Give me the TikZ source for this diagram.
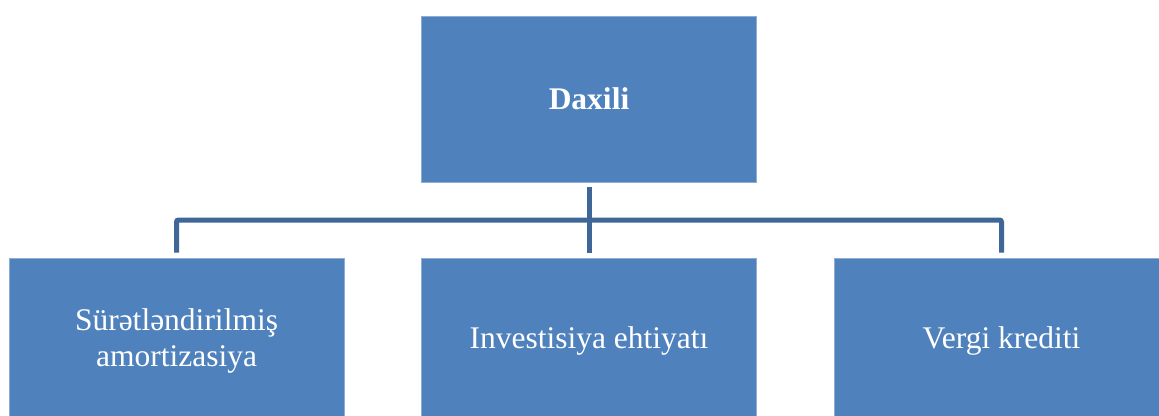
\documentclass[tikz,border=0pt]{standalone}
\usepackage{fontspec}
\setmainfont{Liberation Serif}
\definecolor{boxfill}{HTML}{4F81BD}
\definecolor{boxline}{HTML}{8EADD6}
\definecolor{linkcol}{HTML}{3E6797}
\begin{document}
\begin{tikzpicture}[x=1pt,y=-1pt,
  box/.style={draw=boxline,line width=.8pt,fill=boxfill,text=white,inner sep=0pt,
    minimum width=335pt,minimum height=166pt,align=center,
    font=\fontsize{31.5}{36}\selectfont},
  link/.style={draw=linkcol,line width=5pt,rounded corners=2pt}]
\useasboundingbox (0,0) rectangle (1159,415);
\clip (0,0) rectangle (1159,415);
\node[box,font=\fontsize{31.5}{36}\selectfont\bfseries] (daxili) at (589,99) {Daxili};
\node[box] (amort) at (176.5,341) {Sürətləndirilmiş\\amortizasiya};
\node[box] (invest) at (589,341) {Investisiya ehtiyatı};
\node[box] (vergi) at (1001.5,341) {Vergi krediti};
\coordinate (bar) at (589,220);
\draw[link,shorten <=5pt,shorten >=5pt] (daxili) -- (invest);
\draw[link,shorten >=5pt] (bar) -| (amort);
\draw[link,shorten >=5pt] (bar) -| (vergi);
\end{tikzpicture}
\end{document}
